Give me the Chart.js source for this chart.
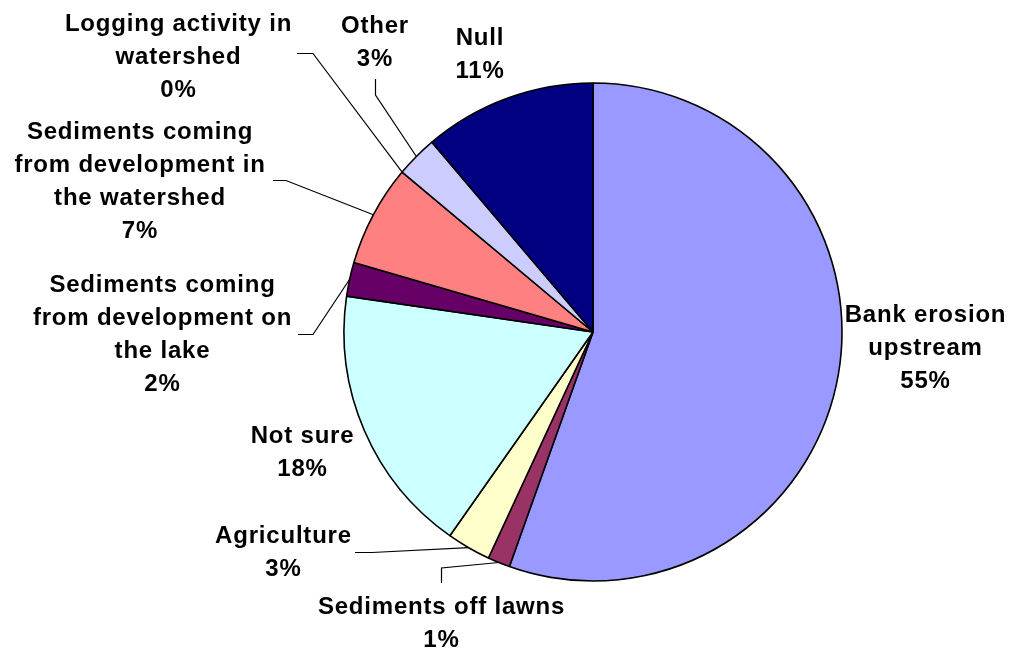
<!DOCTYPE html>
<html>
<head>
<meta charset="utf-8">
<script src="https://cdn.jsdelivr.net/npm/chart.js@4.4.1/dist/chart.umd.min.js"></script>
<style>
  html, body { margin: 0; padding: 0; background: #ffffff; }
  #wrap { width: 1011px; height: 652px; position: relative; }
</style>
</head>
<body>
<div id="wrap"><canvas id="c" width="1011" height="652"></canvas></div>
<script>
// ---- data ----
const categories = [
  ['Bank erosion', 'upstream'],
  ['Sediments off lawns'],
  ['Agriculture'],
  ['Not sure'],
  ['Sediments coming', 'from development on', 'the lake'],
  ['Sediments coming', 'from development in', 'the watershed'],
  ['Logging activity in', 'watershed'],
  ['Other'],
  ['Null']
];
const values = [55.45, 1.45, 2.85, 17.55, 2.2, 6.6, 0, 2.7, 11.2];
const colors = ['#9999FF', '#993366', '#FFFFCC', '#CCFFFF', '#660066', '#FF8080', '#0066CC', '#CCCCFF', '#000080'];

// ---- label placement (text centre x, first baseline y, leader elbow points) ----
const labelLayout = [
  { x: 925.5, y: 322,   leader: null },
  { x: 441.5, y: 613.5, leader: [[441.5, 583], [441.5, 568]] },
  { x: 283.5, y: 543,   leader: [[355, 552.5], [372, 552.5]] },
  { x: 302.5, y: 443,   leader: null },
  { x: 162.5, y: 291.5, leader: [[298, 334.5], [313, 334.5]] },
  { x: 140,   y: 138.5, leader: [[273, 180.5], [286, 180.5]] },
  { x: 178.5, y: 31,    leader: [[297, 53.5], [313, 53.5]] },
  { x: 375,   y: 33,    leader: [[375.5, 79], [375.5, 95]] },
  { x: 480,   y: 45,    leader: null }
];
const lineHeight = 33;

const labelPlugin = {
  id: 'pieLabels',
  afterDraw(chart) {
    const ctx = chart.ctx;
    const meta = chart.getDatasetMeta(0);
    const data = chart.data.datasets[0].data;
    const total = data.reduce((a, b) => a + b, 0);
    ctx.save();
    // leader lines
    ctx.strokeStyle = '#000000';
    ctx.lineWidth = 1.2;
    meta.data.forEach((arc, i) => {
      const lay = labelLayout[i];
      if (!lay || !lay.leader) return;
      const p = arc.getProps(['x', 'y', 'startAngle', 'endAngle', 'outerRadius'], true);
      const mid = (p.startAngle + p.endAngle) / 2;
      const ex = p.x + Math.cos(mid) * p.outerRadius;
      const ey = p.y + Math.sin(mid) * p.outerRadius;
      ctx.beginPath();
      ctx.moveTo(lay.leader[0][0], lay.leader[0][1]);
      for (let k = 1; k < lay.leader.length; k++) ctx.lineTo(lay.leader[k][0], lay.leader[k][1]);
      ctx.lineTo(ex, ey);
      ctx.stroke();
    });
    // texts
    ctx.fillStyle = '#000000';
    ctx.font = 'bold 24px "Liberation Sans", Arial, sans-serif';
    ctx.textAlign = 'center';
    ctx.textBaseline = 'alphabetic';
    try { ctx.letterSpacing = '0.8px'; } catch (e) {}
    meta.data.forEach((arc, i) => {
      const lay = labelLayout[i];
      const lines = chart.data.labels[i].slice();
      lines.push(Math.round(data[i] / total * 100) + '%');
      lines.forEach((t, k) => {
        ctx.fillText(t, lay.x, lay.y + k * lineHeight);
      });
    });
    ctx.restore();
  }
};

new Chart(document.getElementById('c'), {
  type: 'pie',
  data: {
    labels: categories,
    datasets: [{
      data: values,
      backgroundColor: colors,
      borderColor: '#000000',
      borderWidth: 1.6,
      hoverOffset: 0,
      offset: 0
    }]
  },
  options: {
    responsive: false,
    animation: false,
    radius: 249,
    layout: { padding: { left: 344, right: 169, top: 83, bottom: 71 } },
    plugins: {
      legend: { display: false },
      tooltip: { enabled: false },
      title: { display: false }
    },
    events: []
  },
  plugins: [labelPlugin]
});
</script>
</body>
</html>
